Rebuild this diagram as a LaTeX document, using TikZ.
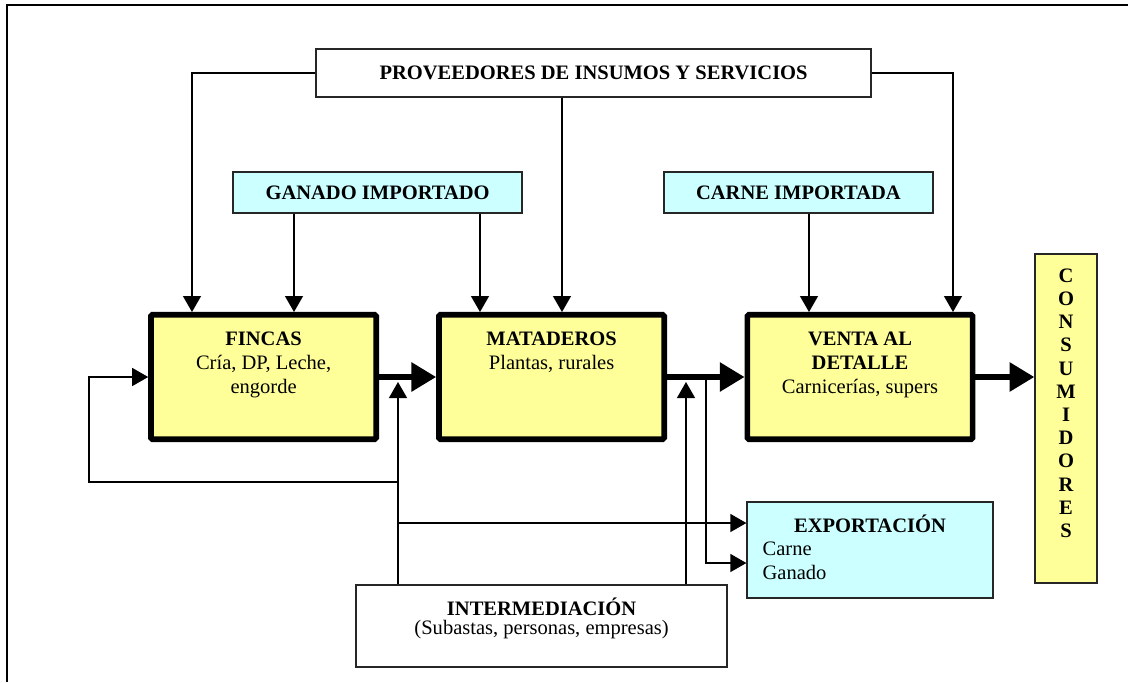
\documentclass[tikz,border=0pt]{standalone}
\usepackage{fontspec}
\setmainfont{Liberation Serif}
\usepackage{tikz}
\usetikzlibrary{arrows.meta,positioning}
\usepackage{color}
\definecolor{boxyellow}{HTML}{FFFF99}
\definecolor{boxcyan}{HTML}{CCFFFF}
\colorlet{boxline}{black!85}

\begin{document}
\begin{tikzpicture}[
    every node/.style={font=\fontsize{14.6}{17}\selectfont},
    whitebox/.style={draw=boxline, line width=0.9pt, fill=white},
    cyanbox/.style={draw=boxline, line width=0.9pt, fill=boxcyan},
    mainbox/.style={draw=black, line width=4pt, fill=boxyellow, rounded corners=1pt,
        minimum width=5.63cm, minimum height=3.11cm},
    boxtext/.style={inner sep=0pt, align=center, anchor=north},
    thinarrow/.style={line width=0.9pt, -{Triangle[length=0.4cm, width=0.45cm]}},
    thickarrow/.style={line width=4.2pt, -{Triangle[length=0.62cm, width=0.7cm]}}]
        \useasboundingbox (0,0) rectangle (28.2,-17.05);
        \draw[line width=1.5pt] (0.165,-17.05) -- (0.165,-0.13) -- (28.2,-0.13);

        \node[whitebox, minimum width=13.875cm, minimum height=1.2cm] (prov) at (14.84,-1.825) {\textbf{PROVEEDORES DE INSUMOS Y SERVICIOS}};
        \node[cyanbox, minimum width=7.225cm, minimum height=1.025cm] (ganado) at (9.44,-4.81) {\textbf{GANADO IMPORTADO}};
        \node[cyanbox, minimum width=6.725cm, minimum height=1.025cm] (carneimp) at (19.96,-4.81) {\textbf{CARNE IMPORTADA}};

        \node[mainbox] (fincas) at (6.59,-9.425) {};
        \node[mainbox] (mataderos) at (13.79,-9.425) {};
        \node[mainbox] (venta) at (21.5,-9.425) {};
        \foreach \n in {fincas,mataderos,venta}{
            \draw[line width=0.8pt] ([shift={(3.3pt,-3.3pt)}]\n.north west) rectangle ([shift={(-3.3pt,3.3pt)}]\n.south east);
        }
        \node[boxtext, below=0.5cm of fincas.north] (fincastext) {\textbf{FINCAS}\\Cría, DP, Leche,\\engorde};
        \node[boxtext, below=0.5cm of mataderos.north] (matatext) {\textbf{MATADEROS}\\Plantas, rurales};
        \node[boxtext, below=0.5cm of venta.north] (ventatext) {\textbf{VENTA AL}\\\textbf{DETALLE}\\Carnicerías, supers};

        \node[draw=boxline, line width=0.9pt, fill=boxyellow, minimum width=1.55cm, minimum height=8.225cm] (consum) at (26.65,-10.46) {};
        \node[boxtext, below=0.38cm of consum.north, font=\bfseries\fontsize{14.6}{16.5}\selectfont] (consumtext) {C\\O\\N\\S\\U\\M\\I\\D\\O\\R\\E\\S};

        \node[cyanbox, minimum width=6.15cm, minimum height=2.4cm] (export) at (21.75,-13.75) {};
        \node[boxtext, below=0.32cm of export.north] (exptitle) {\textbf{EXPORTACIÓN}};
        \node[inner sep=0pt, align=left, anchor=north west] (expitems) at ([shift={(0.4cm,-1.0cm)}]export.north west) {Carne\\Ganado};

        \node[whitebox, minimum width=9.275cm, minimum height=2.05cm] (inter) at (13.54,-15.65) {};
        \node[boxtext, below=0.32cm of inter.north] (intertext) {\textbf{INTERMEDIACIÓN}\\[-3pt](Subastas, personas, empresas)};

        \coordinate (fin1) at (4.8,-7.8);
        \coordinate (fin2) at (7.35,-7.8);
        \coordinate (mat1) at (12.0,-7.8);
        \coordinate (mat2) at (14.05,-7.8);
        \coordinate (ven1) at (20.225,-7.8);
        \coordinate (ven2) at (23.825,-7.8);
        \coordinate (up1) at (9.95,-9.55);
        \coordinate (up2) at (17.15,-9.55);
        \coordinate (split) at (17.65,-9.45);
        \coordinate (back) at (9.95,-12.05);
        \coordinate (backcorner) at (2.225,-12.05);
        \coordinate (exp1) at (9.95,-13.075);
        \coordinate (exp2) at (17.65,-14.075);

        \draw[thinarrow] (prov.west) -| (fin1);
        \draw[thinarrow] (prov.east) -| (ven2);
        \draw[thinarrow] (prov.south -| mat2) -- (mat2);
        \draw[thinarrow] (ganado.south -| fin2) -- (fin2);
        \draw[thinarrow] (ganado.south -| mat1) -- (mat1);
        \draw[thinarrow] (carneimp.south -| ven1) -- (ven1);

        \draw[thickarrow] (fincas.east) -- (mataderos.west);
        \draw[thickarrow] (mataderos.east) -- (venta.west);
        \draw[thickarrow] (venta.east) -- (venta.east -| consum.west);

        \draw[thinarrow] (inter.north -| up1) -- (up1);
        \draw[thinarrow] (inter.north -| up2) -- (up2);
        \draw[thinarrow] (back) -- (backcorner) |- (fincas.west);
        \draw[thinarrow] (exp1) -- (exp1 -| export.west);
        \draw[thinarrow] (split) -- (exp2) -- (exp2 -| export.west);
    \end{tikzpicture}
\end{document}
